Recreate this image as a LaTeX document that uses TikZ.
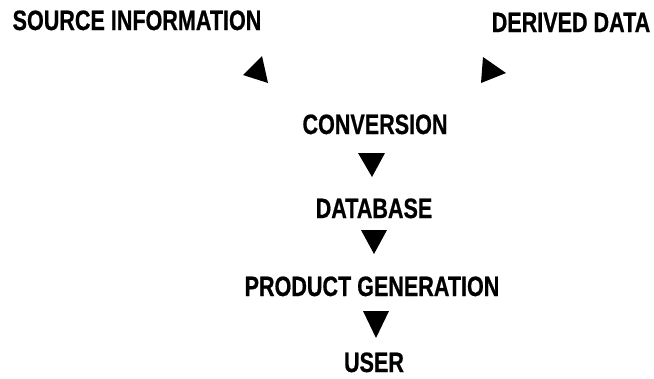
\documentclass[tikz,border=0pt]{standalone}
\usepackage{fontspec}
\newfontfamily\condfont[FakeStretch=0.77,FakeBold=0.6]{Liberation Sans}
\begin{document}
\begin{tikzpicture}[x=1pt,y=-1pt,
  lbl/.style={inner sep=0pt,text height=20pt,text depth=0pt,anchor=center,
    font=\condfont\bfseries\fontsize{28}{28}\selectfont},
  tri/.style={fill=black}]
\useasboundingbox (0,0) rectangle (654,378);
\node[lbl] (src) at (137,20) {SOURCE INFORMATION};
\node[lbl] (der) at (571,22) {DERIVED DATA};
\node[lbl] (conv) at (375,124) {CONVERSION};
\node[lbl] (db) at (374,208) {DATABASE};
\node[lbl] (prod) at (372,286) {PRODUCT GENERATION};
\node[lbl] (user) at (374,362) {USER};
\fill[tri] (262,56) -- (243,75) -- (268,83) -- cycle;
\fill[tri] (483,57) -- (506,73) -- (481,83) -- cycle;
\fill[tri] (358,153) -- (385,153) -- (372,177) -- cycle;
\fill[tri] (361,230) -- (387,230) -- (374,254) -- cycle;
\fill[tri] (363,311) -- (389,311) -- (376,338) -- cycle;
\end{tikzpicture}
\end{document}
